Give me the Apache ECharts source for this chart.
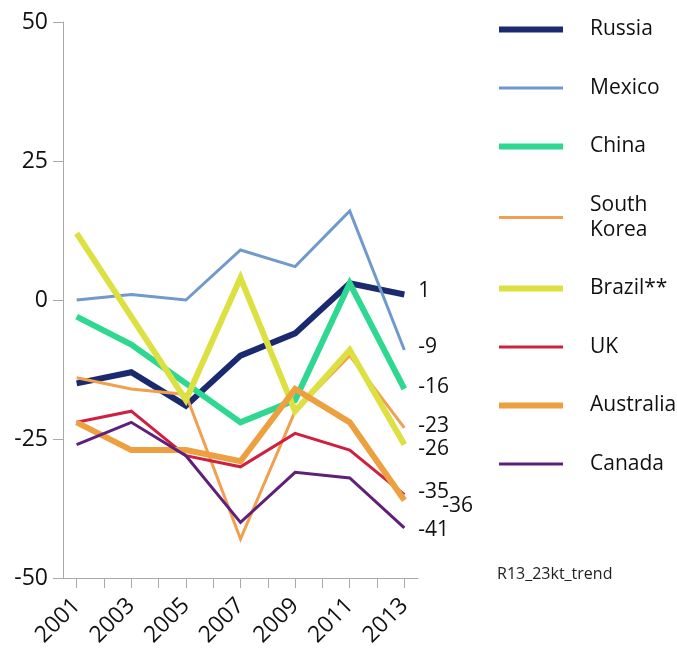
<!DOCTYPE html>
<html>
<head>
<meta charset="utf-8">
<script src="https://cdn.jsdelivr.net/npm/echarts@6/dist/echarts.min.js"></script>
<style>html,body{margin:0;padding:0;background:#fff;}#c{width:677px;height:650px;}</style>
</head>
<body>
<div id="c"></div>
<script>
var years = ['2001','2002','2003','2004','2005','2006','2007','2008','2009','2010','2011','2012','2013'];
var dataYears = ['2001','2003','2005','2007','2009','2011','2013'];
var yTicks = [-50, -25, 0, 25, 50];

var russia    = [-15, -13, -19, -10, -6, 3, 1];
var mexico    = [0, 1, 0, 9, 6, 16, -9];
var china     = [-3, -8, -15, -22, -18, 3, -16];
var southKorea= [-14, -16, -17, -43, -20, -10, -23];
var brazil    = [12, -3, -18, 4, -20, -9, -26];
var uk        = [-22, -20, -28, -30, -24, -27, -35];
var australia = [-22, -27, -27, -29, -16, -22, -36];
var canada    = [-26, -22, -28, -40, -31, -32, -41];

var names   = ['Russia','Mexico','China','South\nKorea','Brazil**','UK','Australia','Canada'];
var values  = [russia, mexico, china, southKorea, brazil, uk, australia, canada];
var colors  = ['#1b2a6e','#6f9acb','#2fd890','#f0a050','#dce040','#d02040','#eca040','#60207a'];
var widths  = [6, 3, 6, 3, 6, 3, 6, 3];
var labelOffsets = [[0,-3],[0,-3],[0,-2],[0,-2],[0,4],[0,-3],[24,6],[0,2]];

var FONT = 'Open Sans';

var series = names.map(function(n, i){
  return {
    name: n,
    type: 'line',
    symbol: 'none',
    data: dataYears.map(function(y, k){ return [y, values[i][k]]; }),
    lineStyle: { color: colors[i], width: widths[i], join: 'miter' },
    itemStyle: { color: colors[i] },
    emphasis: { disabled: true },
    endLabel: {
      show: true,
      distance: 14,
      offset: labelOffsets[i],
      formatter: function(p){ return p.value[1]; },
      color: '#111',
      fontSize: 21,
      fontFamily: FONT
    }
  };
});

var chart = echarts.init(document.getElementById('c'), null, {renderer: 'canvas'});
chart.setOption({
  animation: false,
  backgroundColor: '#fff',
  grid: { left: 63, right: 259, top: 22, bottom: 72, containLabel: false },
  legend: {
    orient: 'vertical',
    left: 496,
    top: 17,
    padding: 0,
    itemWidth: 64,
    itemHeight: 10,
    itemGap: 33.5,
    selectedMode: false,
    data: names.map(function(n, i){
      return {
        name: n,
        lineStyle: { width: widths[i], color: colors[i] },
        itemStyle: { color: 'rgba(0,0,0,0)', borderWidth: 0, opacity: 0 }
      };
    }),
    textStyle: { fontSize: 21, lineHeight: 25, color: '#111', fontFamily: FONT, padding: [0,0,0,22] }
  },
  xAxis: {
    type: 'category',
    data: years,
    boundaryGap: true,
    axisLine: { onZero: false, lineStyle: { color: '#aaa', width: 1 } },
    axisTick: { show: true, alignWithLabel: true, interval: 0, length: 10, lineStyle: { color: '#aaa' } },
    axisLabel: { interval: 1, rotate: 45, margin: 24, fontSize: 23, color: '#111', fontFamily: FONT }
  },
  yAxis: {
    type: 'value',
    min: yTicks[0],
    max: yTicks[yTicks.length-1],
    interval: 25,
    splitLine: { show: false },
    axisLine: { show: true, lineStyle: { color: '#aaa', width: 1 } },
    axisTick: { show: true, length: 10, lineStyle: { color: '#aaa' } },
    axisLabel: { margin: 15, fontSize: 23, color: '#111', fontFamily: FONT }
  },
  graphic: [{
    type: 'text', left: 497, top: 566,
    style: { text: 'R13_23kt_trend', fontSize: 16, fill: '#222', fontFamily: FONT }
  }],
  series: series
});
</script>
</body>
</html>
